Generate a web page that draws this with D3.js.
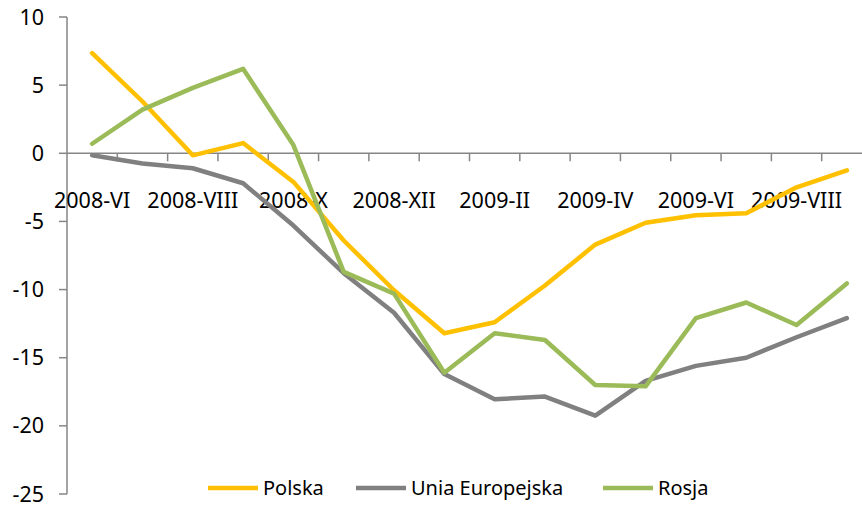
<!DOCTYPE html>
<html>
<head>
<meta charset="utf-8">
<script src="https://cdn.jsdelivr.net/npm/d3@7"></script>
<style>
  body { margin: 0; background: #fff; }
  svg { display: block; font-family: "Noto Sans", sans-serif; }
</style>
</head>
<body>
<div class="chart"></div>
<script>
const months = ["2008-VI", "2008-VII", "2008-VIII", "2008-IX", "2008-X", "2008-XI", "2008-XII",
  "2009-I", "2009-II", "2009-III", "2009-IV", "2009-V", "2009-VI", "2009-VII", "2009-VIII", "2009-IX"];
const polska = [7.35, 3.8, -0.15, 0.75, -2.1, -6.4, -10.05, -13.2, -12.4, -9.7, -6.7, -5.1, -4.55, -4.4, -2.5, -1.25];
const unia = [-0.15, -0.75, -1.1, -2.2, -5.3, -8.8, -11.7, -16.2, -18.05, -17.85, -19.25, -16.7, -15.6, -15.0, -13.5, -12.1];
const rosja = [0.7, 3.2, 4.8, 6.2, 0.6, -8.7, -10.3, -16.1, -13.2, -13.7, -17.0, -17.1, -12.1, -10.95, -12.6, -9.55];
const yTicks = [10, 5, 0, -5, -10, -15, -20, -25];

const series = [
  { name: "Polska", values: polska, color: "#FFC000" },
  { name: "Unia Europejska", values: unia, color: "#808080" },
  { name: "Rosja", values: rosja, color: "#9BBB59" }
];

const width = 862, height = 506;
const axisColor = "#868686";

const svg = d3.select(".chart").append("svg")
  .attr("width", width)
  .attr("height", height);

const x = d3.scaleBand().domain(months).range([67, 872]).padding(0);
const y = d3.scaleLinear().domain([-25, 10]).range([494, 17]);

// y axis
svg.append("line")
  .attr("x1", 67).attr("x2", 67)
  .attr("y1", y(10)).attr("y2", y(-25))
  .attr("stroke", axisColor).attr("stroke-width", 1.5);

svg.selectAll(".ytick")
  .data(yTicks)
  .enter()
  .append("line")
  .attr("x1", 59).attr("x2", 67)
  .attr("y1", d => y(d)).attr("y2", d => y(d))
  .attr("stroke", axisColor).attr("stroke-width", 1.5);

svg.selectAll(".ylabel")
  .data(yTicks)
  .enter()
  .append("text")
  .text(d => d)
  .attr("x", 44)
  .attr("y", d => y(d))
  .attr("dy", "0.35em")
  .attr("text-anchor", "end")
  .attr("font-size", "21.5px")
  .attr("fill", "#000");

// x axis at 0
svg.append("line")
  .attr("x1", 67).attr("x2", 872)
  .attr("y1", y(0)).attr("y2", y(0))
  .attr("stroke", axisColor).attr("stroke-width", 1.5);

svg.selectAll(".xtick")
  .data(months.slice(1).concat(["end"]))
  .enter()
  .append("line")
  .attr("x1", (d, i) => x(months[0]) + x.step() * (i + 1))
  .attr("x2", (d, i) => x(months[0]) + x.step() * (i + 1))
  .attr("y1", y(0)).attr("y2", y(0) + 8)
  .attr("stroke", axisColor).attr("stroke-width", 1.5);

svg.selectAll(".xlabel")
  .data(months.filter((d, i) => i % 2 == 0))
  .enter()
  .append("text")
  .text(d => d)
  .attr("x", d => x(d) + x.bandwidth() / 2)
  .attr("y", 208)
  .attr("text-anchor", "middle")
  .attr("font-size", "21.5px")
  .attr("fill", "#000");

// lines
const line = d3.line()
  .x((d, i) => x(months[i]) + x.bandwidth() / 2)
  .y(d => y(d));

svg.selectAll(".series")
  .data(series)
  .enter()
  .append("path")
  .attr("d", d => line(d.values))
  .attr("fill", "none")
  .attr("stroke", d => d.color)
  .attr("stroke-width", 4.5)
  .attr("stroke-linejoin", "round")
  .attr("stroke-linecap", "round");

// legend
const legendX = [208, 356, 603];
const leg = svg.selectAll(".legend")
  .data(series)
  .enter()
  .append("g")
  .attr("transform", (d, i) => "translate(" + legendX[i] + ",488)");

leg.append("line")
  .attr("x1", 0).attr("x2", 50)
  .attr("y1", 0).attr("y2", 0)
  .attr("stroke", d => d.color)
  .attr("stroke-width", 4.5);

leg.append("text")
  .text(d => d.name)
  .attr("x", 55)
  .attr("y", 0)
  .attr("dy", "0.35em")
  .attr("font-size", "20px")
  .attr("fill", "#000");
</script>
</body>
</html>
